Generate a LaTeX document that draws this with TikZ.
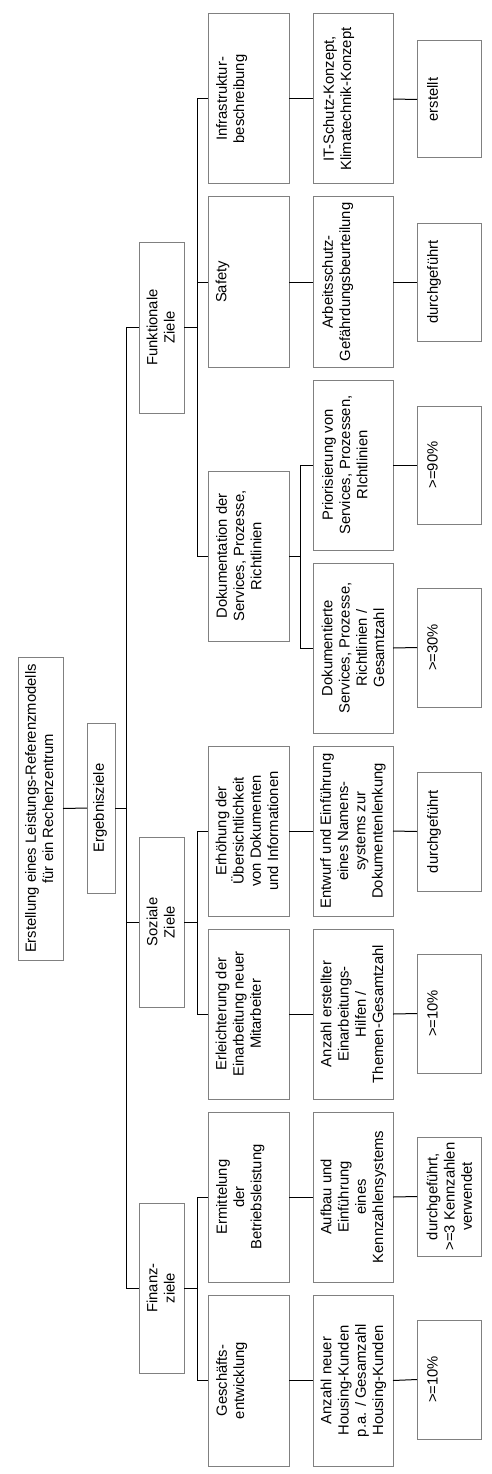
\documentclass[tikz,border=0pt]{standalone}
\usepackage{fontspec}
\setmainfont{Liberation Sans}
\definecolor{boxgray}{RGB}{128,128,128}
\begin{document}
\begin{tikzpicture}[x=1pt,y=-1pt,
  box/.style={draw=boxgray,line width=1pt,rectangle,inner sep=0pt,outer sep=0pt},
  txt/.style={rotate=90,anchor=north,align=center,inner sep=0pt,font=\fontsize{14.8}{17.2}\selectfont},
  conn/.style={draw=black,line width=1pt}]
\useasboundingbox (0,0) rectangle (491,1474);
\fill[white] (0,0) rectangle (491,1474);
% helper: \bx{name}{x1}{y1}{x2}{y2}{inset}{text}
\newcommand{\bx}[7]{%
  \node[box,minimum width={#4-#2},minimum height={#5-#3}] (#1) at ({(#2+#4)/2},{(#3+#5)/2}) {};
  \node[txt] (#1t) at ([xshift=#6pt]#1.west) {#7};}
% root and level 0
\bx{root}{18}{657}{63}{960}{7}{Erstellung eines Leistungs-Referenzmodells\\für ein Rechenzentrum}
\bx{erg}{87}{723}{115}{893}{6}{Ergebnisziele}
% level 1
\bx{fz}{139}{242}{184}{413}{7.5}{Funktionale\\Ziele}
\bx{soz}{139}{837}{184}{1007}{7.5}{Soziale\\Ziele}
\bx{fin}{139}{1203}{184}{1373}{7.5}{Finanz-\\ziele}
% level 2
\bx{infra}{208}{14}{289}{184}{8}{Infrastruktur-\\beschreibung}
\bx{safe}{208}{197}{289}{367}{7.5}{Safety}
\bx{doku}{208}{471}{289}{641}{8}{Dokumentation der\\Services, Prozesse,\\Richtlinien}
\bx{erh}{208}{746}{289}{916}{7.5}{Erhöhung der\\Übersichtlichkeit\\von Dokumenten\\und Informationen}
\bx{erl}{208}{929}{289}{1099}{7.5}{Erleichterung der\\Einarbeitung neuer\\Mitarbeiter}
\bx{erm}{208}{1112}{289}{1282}{8}{Ermittelung\\der\\Betriebsleistung}
\bx{gesch}{208}{1295}{289}{1466}{8}{Geschäfts-\\entwicklung}
% level 3
\bx{its}{313}{14}{393}{184}{10}{IT-Schutz-Konzept,\\Klimatechnik-Konzept}
\bx{arb}{313}{197}{393}{367}{9}{Arbeitsschutz-\\Gefährdungsbeurteilung}
\bx{prio}{313}{380}{393}{550}{9}{Priorisierung von\\Services, Prozessen,\\RIchtlinien}
\bx{dokte}{313}{563}{393}{733}{8.5}{Dokumentierte\\Services, Prozesse,\\Richtlinien /\\Gesamtzahl}
\bx{entw}{313}{746}{393}{916}{7}{Entwurf und Einführung\\eines Namens-\\systems zur\\Dokumentenlenkung}
\bx{anz}{313}{929}{393}{1099}{7.5}{Anzahl erstellter\\Einarbeitungs-\\Hilfen /\\Themen-Gesamtzahl}
\bx{aufb}{313}{1112}{393}{1282}{7.5}{Aufbau und\\Einführung\\eines\\Kennzahlensystems}
\bx{anzn}{313}{1295}{393}{1466}{7.5}{Anzahl neuer\\Housing-Kunden\\p.a. / Gesamzahl\\Housing-Kunden}
% level 4
\bx{erst}{417}{41}{481}{158}{10}{erstellt}
\bx{dga}{417}{223}{481}{341}{10}{durchgeführt}
\bx{g90}{417}{406}{481}{524}{10}{>=90\%}
\bx{g30}{417}{588}{481}{707}{10}{>=30\%}
\bx{dgb}{417}{772}{481}{891}{10}{durchgeführt}
\bx{g10a}{417}{954}{481}{1073}{10}{>=10\%}
\bx{dgc}{417}{1137}{481}{1256}{9.5}{durchgeführt,\\>=3 Kennzahlen\\verwendet}
\bx{g10b}{417}{1320}{481}{1439}{10}{>=10\%}
% buses
\coordinate (busA) at (126,0);
\coordinate (busB) at (197,0);
\coordinate (busC) at (300,0);
% connectors
\draw[conn] (root.east) -- (erg.west);
\draw[conn] (erg.east) -- (erg.east -| busA);
\draw[conn] (busA |- fz.west) -- (busA |- fin.west);
\draw[conn] (busA |- fz.west) -- (fz.west);
\draw[conn] (busA |- soz.west) -- (soz.west);
\draw[conn] (busA |- fin.west) -- (fin.west);
% Funktionale
\draw[conn] (fz.east) -- (fz.east -| busB);
\draw[conn] (busB |- infra.west) -- (busB |- doku.west);
\draw[conn] (busB |- infra.west) -- (infra.west);
\draw[conn] (busB |- safe.west) -- (safe.west);
\draw[conn] (busB |- doku.west) -- (doku.west);
% Soziale
\draw[conn] (soz.east) -- (soz.east -| busB);
\draw[conn] (busB |- erh.west) -- (busB |- erl.west);
\draw[conn] (busB |- erh.west) -- (erh.west);
\draw[conn] (busB |- erl.west) -- (erl.west);
% Finanz
\draw[conn] (fin.east) -- (fin.east -| busB);
\draw[conn] (busB |- erm.west) -- (busB |- gesch.west);
\draw[conn] (busB |- erm.west) -- (erm.west);
\draw[conn] (busB |- gesch.west) -- (gesch.west);
% level 2 -> 3
\draw[conn] (infra.east) -- (its.west);
\draw[conn] (safe.east) -- (arb.west);
\draw[conn] (doku.east) -- (doku.east -| busC);
\draw[conn] (busC |- prio.west) -- (busC |- dokte.west);
\draw[conn] (busC |- prio.west) -- (prio.west);
\draw[conn] (busC |- dokte.west) -- (dokte.west);
\draw[conn] (erh.east) -- (entw.west);
\draw[conn] (erl.east) -- (anz.west);
\draw[conn] (erm.east) -- (aufb.west);
\draw[conn] (gesch.east) -- (anzn.west);
% level 3 -> 4
\draw[conn] (its.east) -- (erst.west);
\draw[conn] (arb.east) -- (dga.west);
\draw[conn] (prio.east) -- (g90.west);
\draw[conn] (dokte.east) -- (g30.west);
\draw[conn] (entw.east) -- (dgb.west);
\draw[conn] (anz.east) -- (g10a.west);
\draw[conn] (aufb.east) -- (dgc.west);
\draw[conn] (anzn.east) -- (g10b.west);
\end{tikzpicture}
\end{document}
